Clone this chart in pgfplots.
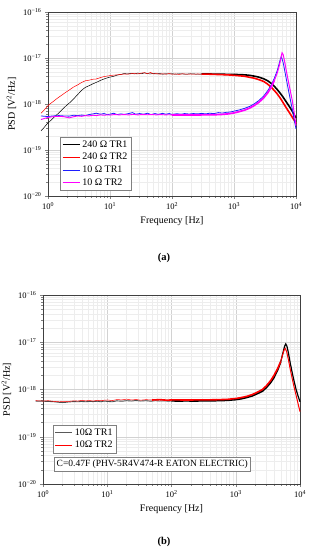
\documentclass[border=0pt]{standalone}
\usepackage{fontspec}
\setmainfont{Liberation Serif}
\usepackage{pgfplots}
\pgfplotsset{compat=1.18}
\definecolor{mag}{RGB}{255,0,255}
\definecolor{blu}{RGB}{30,30,255}
\definecolor{rd}{RGB}{255,0,0}
\begin{document}
\begin{tikzpicture}
\path[use as bounding box] (0,0) rectangle (320pt,550pt);
% ---------------- (a)
\begin{loglogaxis}[at={(48pt,354pt)}, anchor=south west, width=248pt, height=184pt,
    xmin=1, xmax=1e4, ymin=1e-20, ymax=1e-16,
    scale only axis, clip=false,
    grid=both,
    major grid style={gray!35, line width=0.5pt},
    minor grid style={gray!14, line width=0.3pt},
    tick align=outside, tick pos=left,
    axis line style={black!75, line width=0.9pt},
    major tick length=3pt, minor tick length=1.6pt,
    xtick={1,10,100,1000,10000},
    xticklabels={10\textsuperscript{0},10\textsuperscript{1},10\textsuperscript{2},10\textsuperscript{3},10\textsuperscript{4}},
    ytick={1e-20,1e-19,1e-18,1e-17,1e-16},
    yticklabels={10\textsuperscript{−20},10\textsuperscript{−19},10\textsuperscript{−18},10\textsuperscript{−17},10\textsuperscript{−16}},
    tick label style={font=\fontsize{8.5}{9}\selectfont},
    xlabel style={font=\fontsize{10}{12}\selectfont},
    ylabel style={font=\fontsize{10}{12}\selectfont},
    xlabel={Frequency [Hz]},
    ylabel={PSD [V\textsuperscript{2}/Hz]},
    legend cell align=left,
    legend style={at={(0.05,0.03)}, anchor=south west, draw=gray, fill=white,
    font=\fontsize{10}{11}\selectfont, inner sep=1.5pt, row sep=0.6pt}]
\addplot[black, line width=0.5pt, forget plot] table {
0.77 2.6e-19
0.85 3.0e-19
0.95 3.6e-19
1.05 4.1e-19
1.2 4.9e-19
1.4 5.9e-19
1.6 7.0e-19
1.8 8.2e-19
2.0 9.4e-19
2.3 1.1e-18
2.6 1.3e-18
3.0 1.6e-18
3.5 2.0e-18
4.0 2.3e-18
4.6 2.5e-18
5.3 2.75e-18
6.0 2.95e-18
7.0 3.25e-18
8.0 3.5e-18
9.0 3.7e-18
10 3.85e-18
11.5 4.0e-18
13 4.25e-18
15 4.4e-18
17 4.6e-18
19 4.5e-18
22 4.65e-18
25 4.5e-18
28 4.7e-18
32 4.55e-18
36 4.75e-18
40 4.6e-18
45 4.5e-18
50 4.65e-18
56 4.5e-18
63 4.6e-18
70 4.45e-18
80 4.55e-18
90 4.5e-18
100 4.55e-18
115 4.45e-18
130 4.55e-18
150 4.5e-18
170 4.45e-18
200 4.55e-18
230 4.5e-18
260 4.45e-18
300 4.5e-18
};
\addplot[black, line width=1.6pt, forget plot] table {
300 4.5e-18
400 4.5e-18
500 4.45e-18
650 4.45e-18
800 4.4e-18
1000 4.4e-18
1250 4.35e-18
1500 4.3e-18
1800 4.2e-18
2100 4.05e-18
2500 3.85e-18
3000 3.55e-18
3500 3.2e-18
4000 2.8e-18
4500 2.4e-18
5000 2.05e-18
5500 1.75e-18
6000 1.5e-18
6500 1.28e-18
7000 1.1e-18
7500 9.6e-19
8000 8.4e-19
8700 7.0e-19
9300 5.9e-19
10000 5.0e-19
};
\addplot[rd, line width=0.5pt, forget plot] table {
0.77 6.3e-19
0.85 7.2e-19
0.95 8.5e-19
1.05 9.8e-19
1.2 1.12e-18
1.4 1.32e-18
1.6 1.5e-18
1.8 1.68e-18
2.0 1.85e-18
2.3 2.1e-18
2.6 2.35e-18
3.0 2.6e-18
3.5 2.95e-18
4.0 3.2e-18
4.6 3.3e-18
5.3 3.45e-18
6.0 3.5e-18
7.0 3.75e-18
8.0 3.95e-18
9.0 4.05e-18
10 4.15e-18
11.5 4.25e-18
13 4.3e-18
15 4.4e-18
17 4.5e-18
19 4.45e-18
22 4.55e-18
25 4.6e-18
28 4.5e-18
32 4.7e-18
36 4.8e-18
40 4.55e-18
45 4.85e-18
50 4.5e-18
56 4.6e-18
63 4.45e-18
70 4.55e-18
80 4.45e-18
90 4.6e-18
100 4.45e-18
115 4.5e-18
130 4.4e-18
150 4.55e-18
170 4.45e-18
200 4.5e-18
230 4.45e-18
260 4.5e-18
300 4.45e-18
};
\addplot[rd, line width=1.6pt, forget plot] table {
300 4.45e-18
400 4.45e-18
500 4.4e-18
650 4.35e-18
800 4.3e-18
1000 4.2e-18
1250 4.1e-18
1500 4.0e-18
1800 3.8e-18
2100 3.65e-18
2500 3.4e-18
3000 3.1e-18
3500 2.7e-18
4000 2.3e-18
4500 1.95e-18
5000 1.65e-18
5500 1.38e-18
6000 1.15e-18
6500 9.6e-19
7000 8.2e-19
7500 7.1e-19
8000 6.2e-19
8700 5.2e-19
9300 4.5e-19
10000 3.8e-19
};
\addplot[blu, line width=0.8pt, forget plot] table {
0.77 5.5e-19
0.9 5.4e-19
1.0 5.35e-19
1.2 5.5e-19
1.5 5.6e-19
1.8 5.5e-19
2.2 5.45e-19
2.6 5.7e-19
3.0 5.6e-19
3.5 5.75e-19
4.0 5.6e-19
4.6 5.9e-19
5.3 6.1e-19
6.0 6.3e-19
7.0 6.0e-19
8.0 6.2e-19
9.0 5.9e-19
10 6.0e-19
11.5 6.3e-19
13 5.9e-19
15 6.1e-19
17 5.95e-19
20 6.2e-19
23 6.5e-19
26 6.0e-19
30 6.2e-19
35 6.0e-19
40 6.3e-19
46 5.9e-19
53 6.2e-19
60 5.95e-19
70 6.25e-19
80 6.0e-19
90 6.2e-19
100 5.95e-19
120 6.15e-19
140 6.0e-19
160 6.2e-19
190 6.05e-19
220 6.2e-19
260 6.1e-19
300 6.25e-19
350 6.1e-19
400 6.3e-19
480 6.2e-19
560 6.5e-19
650 6.35e-19
750 6.6e-19
870 6.7e-19
1000 7.0e-19
1200 7.4e-19
1500 8.1e-19
1800 8.9e-19
2100 1.0e-18
2500 1.18e-18
3000 1.48e-18
3500 1.95e-18
4000 2.6e-18
4500 3.7e-18
5000 5.4e-18
5300 7.2e-18
5600 9.5e-18
5750 1.05e-17
5900 1.0e-17
6200 8.0e-18
6600 5.2e-18
7000 3.4e-18
7500 2.1e-18
8000 1.35e-18
8700 7.8e-19
9300 4.7e-19
10000 2.9e-19
};
\addplot[mag, line width=0.9pt, forget plot] table {
0.77 4.6e-19
0.9 4.9e-19
1.0 5.1e-19
1.2 5.3e-19
1.5 5.4e-19
1.8 5.3e-19
2.2 5.0e-19
2.6 5.3e-19
3.0 5.5e-19
3.5 5.4e-19
4.0 5.6e-19
4.6 5.5e-19
5.3 5.7e-19
6.0 5.6e-19
7.0 5.8e-19
8.0 5.7e-19
9.0 5.8e-19
10 5.75e-19
12 5.9e-19
14 5.8e-19
17 5.9e-19
20 5.8e-19
24 5.95e-19
28 5.8e-19
33 5.9e-19
40 5.85e-19
48 5.9e-19
56 5.8e-19
66 5.9e-19
78 5.8e-19
90 5.85e-19
100 5.8e-19
};
\addplot[mag, line width=1.7pt, forget plot] table {
100 5.8e-19
130 5.75e-19
170 5.8e-19
220 5.75e-19
300 5.8e-19
400 5.8e-19
500 5.85e-19
650 5.95e-19
800 6.1e-19
1000 6.4e-19
1200 6.8e-19
1500 7.4e-19
1800 8.2e-19
2100 9.2e-19
2500 1.08e-18
3000 1.35e-18
3500 1.75e-18
4000 2.35e-18
4500 3.3e-18
};
\addplot[mag, line width=1.0pt, forget plot] table {
4500 3.3e-18
5000 4.8e-18
5400 7.0e-18
5700 9.8e-18
5950 1.3e-17
6200 1.2e-17
6600 8.0e-18
7000 5.2e-18
7500 3.2e-18
8000 2.1e-18
8700 1.2e-18
9300 6.8e-19
10000 3.4e-19
};
\addlegendimage{black, line width=0.8pt}
\addlegendentry{240 Ω TR1}
\addlegendimage{rd, line width=0.9pt}
\addlegendentry{240 Ω TR2}
\addlegendimage{blu, line width=0.9pt}
\addlegendentry{10 Ω TR1}
\addlegendimage{mag, line width=1.1pt}
\addlegendentry{10 Ω TR2}
\end{loglogaxis}
\node[font=\bfseries\fontsize{10.5}{12}\selectfont] at (164pt,292pt) {(a)};
% ---------------- (b)
\begin{loglogaxis}[at={(43pt,66pt)}, anchor=south west, width=257pt, height=189pt,
    xmin=1, xmax=1e4, ymin=1e-20, ymax=1e-16,
    scale only axis, clip=false,
    grid=both,
    major grid style={gray!35, line width=0.5pt},
    minor grid style={gray!14, line width=0.3pt},
    tick align=outside, tick pos=left,
    axis line style={black!75, line width=0.9pt},
    major tick length=3pt, minor tick length=1.6pt,
    xtick={1,10,100,1000,10000},
    xticklabels={10\textsuperscript{0},10\textsuperscript{1},10\textsuperscript{2},10\textsuperscript{3},10\textsuperscript{4}},
    ytick={1e-20,1e-19,1e-18,1e-17,1e-16},
    yticklabels={10\textsuperscript{−20},10\textsuperscript{−19},10\textsuperscript{−18},10\textsuperscript{−17},10\textsuperscript{−16}},
    tick label style={font=\fontsize{8.5}{9}\selectfont},
    xlabel style={font=\fontsize{10}{12}\selectfont},
    ylabel style={font=\fontsize{10}{12}\selectfont},
    xlabel={Frequency [Hz]},
    ylabel={PSD [V\textsuperscript{2}/Hz]},
    legend cell align=left,
    legend style={at={(0.039,0.164)}, anchor=south west, draw=gray, fill=white,
    font=\fontsize{10}{11}\selectfont, inner sep=1.5pt, row sep=0.6pt}]
\addplot[black!70, line width=0.9pt, forget plot] table {
0.77 5.7e-19
0.9 5.7e-19
1.0 5.65e-19
1.2 5.6e-19
1.5 5.5e-19
1.8 5.35e-19
2.1 5.3e-19
2.5 5.45e-19
3.0 5.55e-19
3.5 5.5e-19
4.0 5.6e-19
4.6 5.5e-19
5.3 5.6e-19
6.0 5.55e-19
7.0 5.65e-19
8.0 5.5e-19
9.0 5.7e-19
10 5.6e-19
12 5.5e-19
14 5.75e-19
17 5.65e-19
20 5.8e-19
24 5.7e-19
28 5.85e-19
33 5.7e-19
40 5.8e-19
48 5.65e-19
56 5.8e-19
66 5.7e-19
78 5.75e-19
90 5.65e-19
100 5.75e-19
};
\addplot[black, line width=1.6pt, forget plot] table {
100 5.75e-19
130 5.7e-19
170 5.75e-19
220 5.7e-19
300 5.75e-19
400 5.75e-19
500 5.8e-19
650 5.85e-19
800 5.95e-19
1000 6.1e-19
1250 6.4e-19
1500 6.8e-19
1800 7.3e-19
2100 8.0e-19
2600 9.2e-19
3000 1.1e-18
3500 1.4e-18
3900 1.75e-18
4500 2.6e-18
5000 3.8e-18
};
\addplot[black, line width=1.2pt, forget plot] table {
5000 3.8e-18
5400 5.8e-18
5750 8.2e-18
6000 9.2e-18
6250 8.3e-18
6600 6.0e-18
7000 3.8e-18
7500 2.4e-18
8000 1.6e-18
8700 1.0e-18
9300 7.4e-19
10000 5.5e-19
};
\addplot[rd, line width=0.5pt, forget plot] table {
0.77 5.8e-19
0.9 5.75e-19
1.0 5.7e-19
1.2 5.8e-19
1.5 5.6e-19
1.8 5.5e-19
2.1 5.55e-19
2.5 5.6e-19
3.0 5.75e-19
3.5 5.7e-19
4.0 5.9e-19
4.6 5.75e-19
5.3 5.85e-19
6.0 5.7e-19
7.0 5.9e-19
8.0 5.8e-19
9.0 5.95e-19
10 6.0e-19
12 5.85e-19
14 6.1e-19
17 6.05e-19
20 6.25e-19
24 6.0e-19
28 6.15e-19
33 5.95e-19
40 6.1e-19
50 6.0e-19
};
\addplot[rd, line width=1.6pt, forget plot] table {
50 6.0e-19
65 6.1e-19
85 5.95e-19
110 6.05e-19
150 6.0e-19
200 6.0e-19
280 6.05e-19
400 6.05e-19
550 6.1e-19
750 6.2e-19
1000 6.45e-19
1250 6.8e-19
1500 7.2e-19
1800 7.8e-19
2100 8.6e-19
2600 1.0e-18
3000 1.2e-18
3500 1.55e-18
3900 1.95e-18
4500 2.8e-18
5000 3.9e-18
};
\addplot[rd, line width=1.0pt, forget plot] table {
5000 3.9e-18
5400 5.6e-18
5700 7.0e-18
5900 7.4e-18
6200 6.3e-18
6600 4.3e-18
7000 2.8e-18
7500 1.8e-18
8000 1.2e-18
8700 7.5e-19
9300 5.1e-19
10000 3.4e-19
};
\addlegendimage{black!65, line width=1pt}
\addlegendentry{10Ω TR1}
\addlegendimage{rd, line width=0.9pt}
\addlegendentry{10Ω TR2}
\end{loglogaxis}
\node[draw=gray, fill=white, anchor=south west, inner sep=2.5pt,
  font=\fontsize{9.5}{11}\selectfont] at (54pt,79pt)
  {C=0.47F (PHV-5R4V474-R EATON ELECTRIC)};
\node[font=\bfseries\fontsize{10.5}{12}\selectfont] at (164pt,8pt) {(b)};
\end{tikzpicture}
\end{document}
